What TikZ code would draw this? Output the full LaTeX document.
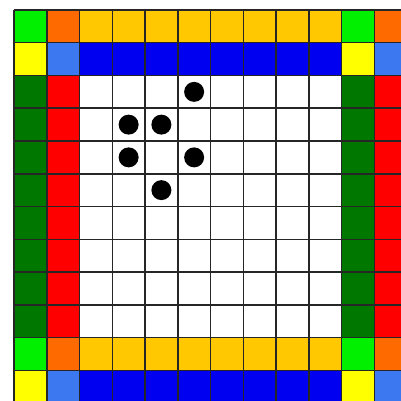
\documentclass[tikz,border=0pt]{standalone}
\usetikzlibrary{calc}
\definecolor{lgreen}{HTML}{00F000}
\definecolor{orng}{HTML}{FF6A00}
\definecolor{gold}{HTML}{FFC800}
\definecolor{yel}{HTML}{FFFF00}
\definecolor{cblue}{HTML}{3C78F0}
\definecolor{dblue}{HTML}{0000F0}
\definecolor{dgreen}{HTML}{007800}
\definecolor{rd}{HTML}{FF0000}
\tikzset{
  cell/.style={fill=#1, draw=black!85, line width=1.5pt},
  stone/.style={circle, fill=black, inner sep=0pt, minimum size=20pt}
}
\newcommand{\cs}{32.75}
\begin{document}
\begin{tikzpicture}[x=1pt,y=-1pt]
\useasboundingbox (0,0) rectangle (401,401);
\fill[white] (0,0) rectangle (401,401);
\clip (0,0) rectangle (401,401);
% colour helper: row r, col c
\foreach \r in {0,...,11}{
  \foreach \c in {0,...,11}{
    \pgfmathtruncatemacro{\rr}{\r}
    \pgfmathtruncatemacro{\cc}{\c}
    \def\col{white}
    % row type
    \ifnum\rr=0 \def\rt{a}\else\ifnum\rr=10 \def\rt{a}\else
    \ifnum\rr=1 \def\rt{b}\else\ifnum\rr=11 \def\rt{b}\else\def\rt{m}\fi\fi\fi\fi
    % column type
    \ifnum\cc=0 \def\ct{p}\else\ifnum\cc=10 \def\ct{p}\else
    \ifnum\cc=1 \def\ct{q}\else\ifnum\cc=11 \def\ct{q}\else\def\ct{n}\fi\fi\fi\fi
    \edef\key{\rt\ct}
    \def\ap{ap}\def\aq{aq}\def\an{an}\def\bp{bp}\def\bq{bq}\def\bn{bn}\def\mp{mp}\def\mq{mq}
    \ifx\key\ap \def\col{lgreen}\fi
    \ifx\key\aq \def\col{orng}\fi
    \ifx\key\an \def\col{gold}\fi
    \ifx\key\bp \def\col{yel}\fi
    \ifx\key\bq \def\col{cblue}\fi
    \ifx\key\bn \def\col{dblue}\fi
    \ifx\key\mp \def\col{dgreen}\fi
    \ifx\key\mq \def\col{rd}\fi
    \fill[\col] ({14+\c*\cs},{10+\r*\cs}) rectangle ++(\cs,\cs);
  }
}
% grid lines
\foreach \i in {0,...,12}{
  \draw[black!85, line width=1.5pt] ({14+\i*\cs},10) -- ({14+\i*\cs},{10+12*\cs});
  \draw[black!85, line width=1.5pt] (14,{10+\i*\cs}) -- ({14+12*\cs},{10+\i*\cs});
}
% stones
\node[stone] (s1) at ({14+5.5*\cs},{10+2.5*\cs}) {};
\node[stone] (s2) at ({14+3.5*\cs},{10+3.5*\cs}) {};
\node[stone] (s3) at ({14+4.5*\cs},{10+3.5*\cs}) {};
\node[stone] (s4) at ({14+3.5*\cs},{10+4.5*\cs}) {};
\node[stone] (s5) at ({14+5.5*\cs},{10+4.5*\cs}) {};
\node[stone] (s6) at ({14+4.5*\cs},{10+5.5*\cs}) {};
\end{tikzpicture}
\end{document}
